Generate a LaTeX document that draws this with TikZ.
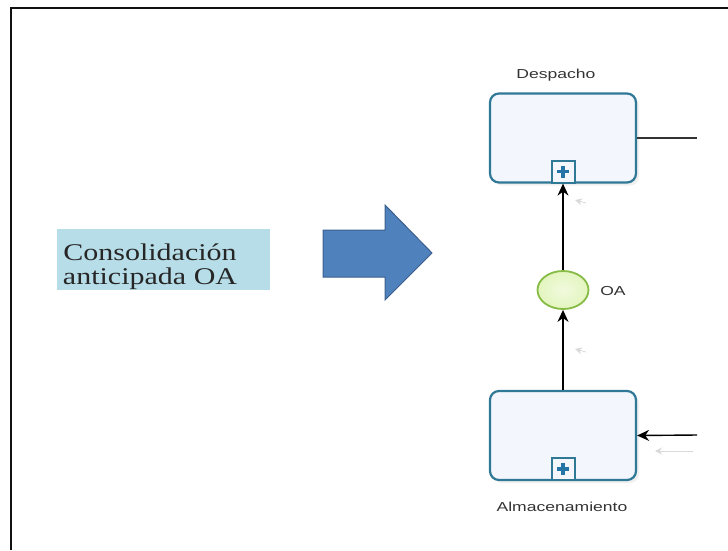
\documentclass[tikz,border=0pt]{standalone}
\usepackage{fontspec}
\setmainfont{Liberation Serif}
\newfontfamily\uifont{Liberation Sans}
\usetikzlibrary{arrows.meta,shapes.geometric,shadows}

\definecolor{framecol}{HTML}{111111}
\definecolor{notefill}{HTML}{B7DDE8}
\definecolor{bigarrowfill}{HTML}{4F81BD}
\definecolor{bigarrowline}{HTML}{3A5F8E}
\definecolor{taskline}{HTML}{2F7896}
\definecolor{taskfill}{HTML}{F3F6FC}
\definecolor{markblue}{HTML}{2474A6}
\definecolor{eventline}{HTML}{86BC45}
\definecolor{eventfill}{HTML}{E3F5BE}
\definecolor{labelcol}{HTML}{333333}

\tikzset{
  task/.style={draw=taskline, line width=2.2pt, fill=taskfill, rounded corners=9pt,
    minimum width=146pt, minimum height=89pt, inner sep=0pt,
    drop shadow={opacity=0.12, shadow xshift=3pt, shadow yshift=-3pt}},
  submark/.style={draw=taskline, line width=2pt, fill=taskfill,
    minimum width=23pt, minimum height=22pt, inner sep=0pt, anchor=south},
  plusbar/.style={draw=markblue, line width=3.6pt},
  startev/.style={ellipse, draw=eventline, line width=1.8pt, inner color=eventfill!50,
    outer color=eventfill, minimum width=51pt, minimum height=38pt, inner sep=0pt},
  flow/.style={draw=black, line width=1.4pt, -{Stealth[length=12pt,width=11pt]}},
  plain/.style={draw=black!80, line width=1.2pt},
  ghost/.style={draw=gray!30, line width=0.8pt, -{Stealth[length=7pt,width=7pt]}},
  uilabel/.style={text=labelcol, font=\uifont\fontsize{13}{15}\selectfont, xscale=1.35,
    inner sep=0pt},
  note/.style={fill=notefill, minimum width=213pt, minimum height=61pt, inner sep=0pt},
  notetext/.style={align=center, font=\fontsize{24}{24}\selectfont, text=black!85, inner sep=0pt}
}

\begin{document}
\begin{tikzpicture}[x=1pt,y=-1pt]
  \useasboundingbox (0,0) rectangle (728,550);

  % frame, open on the right and at the bottom
  \draw[framecol, line width=2pt] (11,550) -- (11,8) -- (728,8);

  % caption box
  \node[note] (caption) at (163.5,259.5) {};
  \node[notetext] (captiontext) at (150,267)
    {\scalebox{1.25}[1]{Consolidación}\\\scalebox{1.25}[1]{anticipada OA}};

  % block arrow
  \filldraw[fill=bigarrowfill, draw=bigarrowline, line width=1pt]
    (323,230) -- (385,230) -- (385,205) -- (432,253) -- (385,300) -- (385,277) -- (323,277) -- cycle;

  % process fragment
  \node[task] (desp) at (563,138) {};
  \node[submark] (despmark) at (desp.south) {};
  \draw[plusbar] (despmark.center) ++(-6pt,0) -- ++(12pt,0);
  \draw[plusbar] (despmark.center) ++(0,-6pt) -- ++(0,12pt);

  \node[task] (alm) at (563,435.5) {};
  \node[submark] (almmark) at (alm.south) {};
  \draw[plusbar] (almmark.center) ++(-6pt,0) -- ++(12pt,0);
  \draw[plusbar] (almmark.center) ++(0,-6pt) -- ++(0,12pt);

  \node[startev] (oa) at (563,290) {};

  % labels
  \node[uilabel] (despl) at (556,75) {Despacho};
  \node[uilabel] (oal) at (613,291) {OA};
  \node[uilabel] (alml) at (562,507) {Almacenamiento};

  % sequence flows
  \coordinate (outR) at (697,138);
  \coordinate (inR) at (697,435);
  \draw[plain] (desp.east) -- (outR);
  \draw[flow] (oa.north) -- (desp.south);
  \draw[flow] (alm.north) -- (oa.south);
  \draw[flow] (inR) -- (alm.east);

  % faint drag traces
  \coordinate (g1a) at (586,203);
  \coordinate (g1b) at (575,200);
  \coordinate (g2a) at (586,352);
  \coordinate (g2b) at (575,349);
  \coordinate (g3a) at (693,451);
  \coordinate (g3b) at (655,451);
  \draw[ghost] (g1a) -- (g1b);
  \draw[ghost] (g2a) -- (g2b);
  \draw[ghost] (g3a) -- (g3b);
\end{tikzpicture}
\end{document}
